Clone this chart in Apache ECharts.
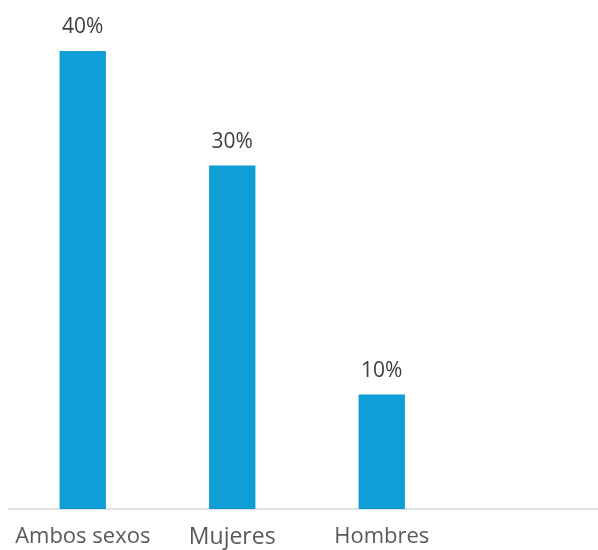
<!DOCTYPE html>
<html><head><meta charset="utf-8">
<script src="https://cdn.jsdelivr.net/npm/echarts@6/dist/echarts.min.js"></script>
<style>html,body{margin:0;padding:0;background:#fff;overflow:hidden}#c{width:598px;height:550px}</style>
</head><body><div id="c"></div>
<script>
const categories = ['Ambos sexos', 'Mujeres', 'Hombres', ''];
const values = [40, 30, 10, null];
const labelSizes = [22, 23, 22, 22];

const chart = echarts.init(document.getElementById('c'));
chart.setOption({
  animation: false,
  grid: { left: 8, width: 598, top: 51, bottom: 41, containLabel: false, outerBoundsMode: 'none' },
  xAxis: {
    type: 'category',
    data: categories,
    axisLine: { lineStyle: { color: '#d9d9d9', width: 1.5 } },
    axisTick: { show: false },
    axisLabel: {
      margin: 17,
      color: '#595959',
      fontFamily: 'Open Sans',
      verticalAlign: 'top',
      formatter: (v, i) => '{s' + i + '|' + v + '}',
      rich: {
        s0: { fontSize: labelSizes[0], color: '#595959', fontFamily: 'Open Sans' },
        s1: { fontSize: labelSizes[1], color: '#595959', fontFamily: 'Open Sans' },
        s2: { fontSize: labelSizes[2], color: '#595959', fontFamily: 'Open Sans' },
        s3: { fontSize: labelSizes[3], color: '#595959', fontFamily: 'Open Sans' }
      }
    }
  },
  yAxis: {
    type: 'value', min: 0, max: 40, show: false,
    splitLine: { show: false }
  },
  series: [{
    type: 'bar',
    data: values,
    barWidth: '31%',
    itemStyle: { color: '#119ed6' },
    label: {
      show: true, position: 'top', distance: 13,
      formatter: p => p.value + '%',
      color: '#404040', fontSize: 21, fontFamily: 'Open Sans'
    }
  }]
});
</script></body></html>
